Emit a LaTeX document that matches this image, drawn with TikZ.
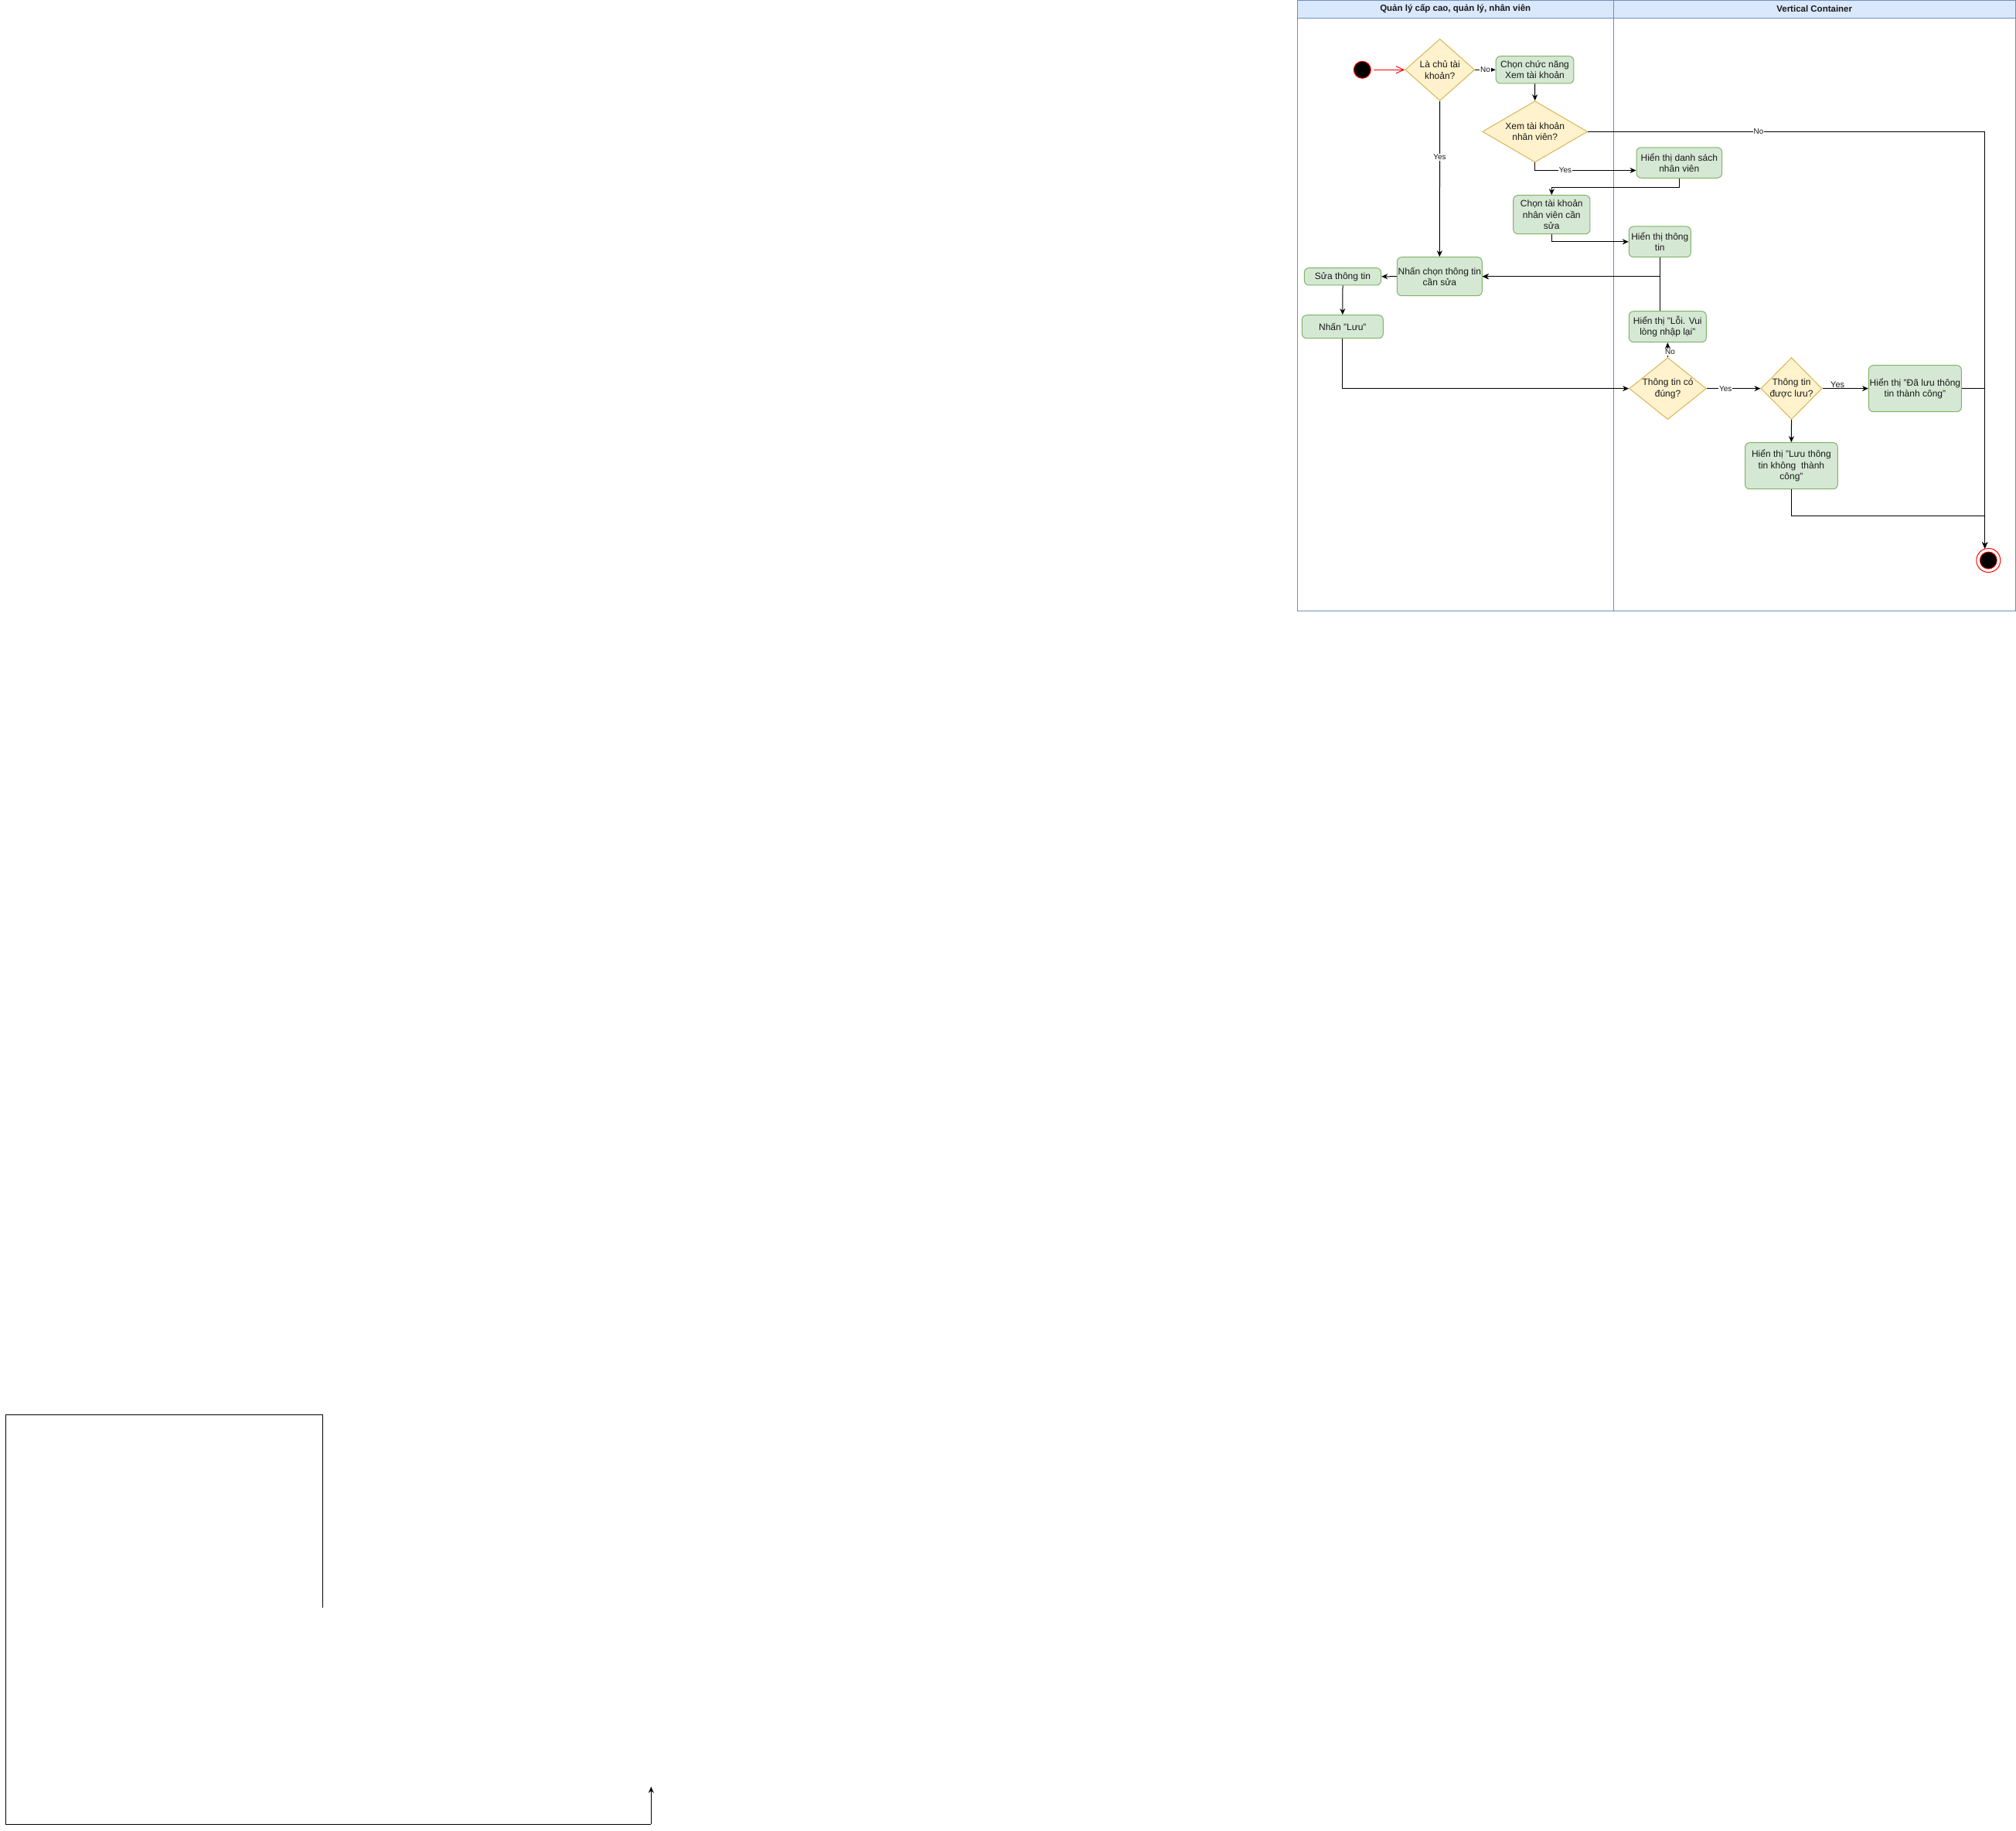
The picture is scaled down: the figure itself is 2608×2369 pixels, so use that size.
\documentclass[tikz,border=0pt]{standalone}
\usepackage{fontspec}
\setmainfont{Liberation Sans}
\usetikzlibrary{arrows.meta,shapes.geometric,calc}
\definecolor{gfill}{HTML}{D5E8D4}
\definecolor{gline}{HTML}{82B366}
\definecolor{yfill}{HTML}{FFF2CC}
\definecolor{yline}{HTML}{D6B656}
\definecolor{bfill}{HTML}{DAE8FC}
\definecolor{bline}{HTML}{6C8EBF}
\definecolor{txt}{HTML}{1A1A1A}
\tikzset{
  act/.style={draw=gline, fill=gfill, line width=1pt, rounded corners=6pt, inner sep=0pt, align=center, text=txt, font=\fontsize{12}{14.5}\selectfont},
  dec/.style={draw=yline, fill=yfill, line width=1pt, shape=diamond, inner sep=0pt},
  dectxt/.style={align=center, text=txt, font=\fontsize{12}{14.5}\selectfont, inner sep=0pt},
  edge/.style={draw=black, line width=1pt, -{Stealth[length=8pt,width=7pt]}},
  plain/.style={draw=black, line width=1pt},
  elabel/.style={fill=white, inner sep=1pt, text=txt, font=\fontsize{10}{12}\selectfont},
  lanehead/.style={draw=bline, fill=bfill, line width=1pt},
  lanebody/.style={draw=bline, fill=white, line width=1pt},
}
\begin{document}
\begin{tikzpicture}[x=1pt,y=-1pt]
\useasboundingbox (0,0) rectangle (2608,2369);
% pool
\path[lanebody] (1678,0) rectangle (2087.4,790);
\path[lanebody] (2087.4,0) rectangle (2607,790);
\path[lanehead] (1678,0) rectangle (2087.4,23);
\path[lanehead] (2087.4,0) rectangle (2607,23);
\node[font=\bfseries\fontsize{11.5}{13}\selectfont, text=txt] (h1) at (1882.7,11.5) {Quản lý cấp cao, quản lý, nhân viên};
\node[font=\bfseries\fontsize{11.5}{13}\selectfont, text=txt] (h2) at (2347.2,11.5) {Vertical Container};

% start
\node[circle, draw=red, fill=black, line width=1pt, minimum size=22pt, inner sep=0pt] (start) at (1762.3,90.3) {};
% nodes
\node[dec, minimum width=90pt, minimum height=80pt] (d1) at (1862.7,90.3) {};
\node[dectxt] at (d1) {Là chủ tài\\khoản?};
\node[act, minimum width=100.7pt, minimum height=35.3pt] (b1) at (1985.5,90.3) {Chọn chức năng\\Xem tài khoản};
\node[dec, minimum width=136pt, minimum height=79.3pt] (d2) at (1985.7,170.3) {};
\node[dectxt] at (d2) {Xem tài khoản\\nhân viên?};
\node[act, minimum width=110.5pt, minimum height=39.5pt] (b2) at (2172.3,210.5) {Hiển thị danh sách\\nhân viên};
\node[act, minimum width=99.3pt, minimum height=50pt] (b3) at (2007.3,277.7) {Chọn tài khoản\\nhân viên cần\\sửa};
\node[act, minimum width=80pt, minimum height=39.7pt] (b4) at (2147.3,312.8) {Hiển thị thông\\tin};
\node[act, minimum width=110pt, minimum height=50pt] (b5) at (1862.3,357.7) {Nhấn chọn thông tin\\cần sửa};
\node[act, minimum width=99.3pt, minimum height=22.3pt] (b6) at (1737,357.8) {Sửa thông tin};
\node[act, minimum width=105pt, minimum height=30pt] (b7) at (1736.8,422.7) {Nhấn "Lưu"};
\node[act, minimum width=100pt, minimum height=40pt] (b8) at (2157.3,422.7) {Hiển thị "Lỗi. Vui\\lòng nhập lại"};
\node[dec, minimum width=99.7pt, minimum height=80pt] (d3) at (2157.5,502.7) {};
\node[dectxt] at (d3) {Thông tin có\\đúng?};
\node[dec, minimum width=79pt, minimum height=80pt] (d4) at (2317.5,502.7) {};
\node[dectxt] at (d4) {Thông tin\\được lưu?};
\node[act, minimum width=119.9pt, minimum height=60pt] (b9) at (2477.4,502.7) {Hiển thị "Đã lưu thông\\tin thành công"};
\node[act, minimum width=119.8pt, minimum height=60pt] (b10) at (2317.4,602.7) {Hiển thị "Lưu thông\\tin không\ \ thành\\công"};
% end
\node[circle, draw=red, fill=white, line width=1pt, minimum size=31pt, inner sep=0pt] (endo) at (2572.3,725) {};
\node[circle, draw=red, fill=black, line width=0.8pt, minimum size=22pt, inner sep=0pt] (endi) at (endo) {};
\coordinate (endin) at (2567.7,709.5);

% edges
\draw[red, line width=1pt, -{Straight Barb[length=10pt,width=9pt]}] (start.east) ++(3,0) -- (d1.west);
\draw[edge] (d1.east) -- node[elabel]{No} (b1.west);
\draw[edge] (b1.south) -- (d2.north);
\draw[edge] (d1.south) -- node[elabel, pos=0.36]{Yes} (b5.north);
\draw[edge] (d2.east) -- node[elabel, pos=0.43]{No} (2567.7,170.3) -- (endin);
\draw[edge] (d2.south) |- node[elabel, pos=0.65]{Yes} ($(b2.west)+(0,10)$);
\draw[edge] (b2.south) -- ++(0,11.5) -| (b3.north);
\draw[edge] (b3.south) |- (b4.west);
\draw[edge] (b4.south) |- (b5.east);
\draw[edge] (b4.south |- b8.north) |- (b5.east);
\draw[edge] (b5.west) -- (b6.east);
\draw[edge] (b6.south) -- (b7.north);
\draw[edge] (b7.south) |- (d3.west);
\draw[edge] (d3.north) -- node[elabel, pos=0.35, xshift=3pt]{No} (b8.south);
\draw[edge] (d3.east) -- node[elabel, pos=0.35]{Yes} (d4.west);
\draw[edge] (d4.east) -- node[text=txt, font=\fontsize{11}{13}\selectfont, above, pos=0.33, inner sep=1pt]{Yes} (b9.west);
\draw[edge] (d4.south) -- (b10.north);
\draw[edge] (b9.east) -| (endin);
\draw[edge] (b10.south) -- ++(0,34) -| (endin);

% stray lines bottom left
\coordinate (s1) at (417.3,2080);
\coordinate (s2) at (417.3,1830.3);
\coordinate (s3) at (7.3,1830.3);
\coordinate (s4) at (7.3,2360.3);
\coordinate (s5) at (842.3,2360.3);
\coordinate (s6) at (842.3,2311.7);
\draw[plain] (s1) -- (s2) -- (s3) -- (s4) -- (s5);
\draw[edge] (s5) -- (s6);
\end{tikzpicture}
\end{document}
